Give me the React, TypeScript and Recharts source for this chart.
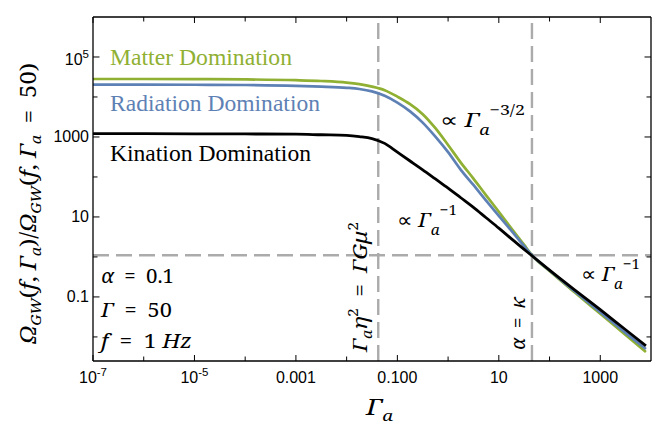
import React, { useEffect, useState } from 'react';
import { Line, LineChart, ReferenceLine, XAxis, YAxis } from 'recharts';

// values (log-log plot)
const gammaA = [1e-7, 1e-6, 1e-5, 1e-4, 1e-3, 0.00316, 0.01, 0.0178, 0.0316, 0.0562, 0.1, 0.178, 0.316, 0.562, 1, 1.78, 3.16, 5.62, 10, 17.8, 31.6, 45, 100, 316, 1000, 3160, 7940];
const matterDom = [28200, 28200, 27900, 27500, 26300, 25100, 22900, 20900, 18200, 14800, 10200, 6610, 3720, 1660, 631, 229, 91.2, 34.7, 13.5, 5.13, 2.0, 1.1, 0.447, 0.129, 0.038, 0.0112, 0.0042];
const radiationDom = [20400, 20400, 20200, 19950, 19050, 18200, 16980, 15850, 13800, 10720, 7240, 4370, 2290, 1020, 417, 151, 63.1, 25.7, 10.7, 4.47, 1.86, 1.1, 0.457, 0.138, 0.0417, 0.0126, 0.005];
const kinationDom = [1216, 1216, 1202, 1189, 1175, 1135, 1096, 1023, 912, 692, 417, 251, 151, 89.1, 52.5, 30.2, 17.4, 9.55, 5.25, 2.82, 1.55, 1.07, 0.468, 0.148, 0.0479, 0.0151, 0.006];

const kneeX = 0.042;
const kappaX = 45;
const crossY = 1.1;

const xTicks = [1e-7, 1e-6, 1e-5, 1e-4, 1e-3, 1e-2, 0.1, 1, 10, 100, 1000];
const xLabelValues = [1e-7, 1e-5, 1e-3, 0.1, 10, 1000];
const xLabelText = ['10^-7', '10^-5', '0.001', '0.100', '10', '1000'];
const yTicks = [0.01, 0.1, 1, 10, 100, 1000, 1e4, 1e5];
const yLabelValues = [0.1, 10, 1000, 1e5];
const yLabelText = ['0.1', '10', '1000', '10^5'];

const data = gammaA.map((g, i) => ({
  g,
  matter: matterDom[i],
  radiation: radiationDom[i],
  kination: kinationDom[i],
}));

const GREEN = '#8FB032';
const BLUE = '#5E81B5';
const INK = '#000';
const DASH = '#ABABAB';
const SANS = "'Liberation Sans'";
const SERIF = "'Liberation Serif'";
const MATH = "'Noto Serif'";
const EQ = '\u2002=\u2002';

const W = 665;
const H = 434;

function findLabel(values: number[], texts: string[], v: number) {
  const i = values.findIndex((t) => Math.abs(Math.log10(t) - Math.log10(v)) < 1e-6);
  return i < 0 ? null : texts[i];
}

function PowerText({ x, y, text, anchor }: { x: number; y: number; text: string; anchor: string }) {
  const [base, exp] = text.split('^');
  return (
    <text x={x} y={y} textAnchor={anchor} style={{ fontFamily: SANS }} fontSize={16} fill={INK}>
      {base}
      {exp !== undefined && (
        <tspan dy={-7} fontSize={11.5}>
          {exp}
        </tspan>
      )}
    </text>
  );
}

function BottomTick(props: any) {
  const { x, y, payload } = props;
  const label = findLabel(xLabelValues, xLabelText, payload.value);
  return (
    <g>
      <line x1={x} x2={x} y1={y} y2={y - (label ? 6 : 4.5)} stroke={INK} strokeWidth={1} />
      {label && <PowerText x={x} y={y + 22} text={label} anchor="middle" />}
    </g>
  );
}

function TopTick(props: any) {
  const { x, y, payload } = props;
  const label = findLabel(xLabelValues, xLabelText, payload.value);
  return <line x1={x} x2={x} y1={y} y2={y + (label ? 6 : 4.5)} stroke={INK} strokeWidth={1} />;
}

function LeftTick(props: any) {
  const { x, y, payload } = props;
  const label = findLabel(yLabelValues, yLabelText, payload.value);
  return (
    <g>
      <line x1={x} x2={x + (label ? 6.5 : 4.5)} y1={y} y2={y} stroke={INK} strokeWidth={1} />
      {label && <PowerText x={x - 4} y={y + (label.includes('^') ? 8 : 5.5)} text={label} anchor="end" />}
    </g>
  );
}

function RightTick(props: any) {
  const { x, y, payload } = props;
  const label = findLabel(yLabelValues, yLabelText, payload.value);
  return <line x1={x} x2={x - (label ? 6.5 : 4.5)} y1={y} y2={y} stroke={INK} strokeWidth={1} />;
}

// textLength pins each label to the width it has in the reference
function MathText({ children, len, ...rest }: any) {
  return (
    <text style={{ fontFamily: MATH }} fill={INK} textLength={len} lengthAdjust="spacingAndGlyphs" {...rest}>
      {children}
    </text>
  );
}

function PropTo({ x, y, exp, len }: { x: number; y: number; exp: string; len: number }) {
  return (
    <MathText x={x} y={y} fontSize={20} len={len}>
      <tspan>∝ </tspan>
      <tspan fontStyle="italic">Γ</tspan>
      <tspan fontStyle="italic" fontSize={14} dy={8}>a</tspan>
      <tspan fontSize={14} dy={-20}>{exp}</tspan>
    </MathText>
  );
}

function SeriesLabel({ y, color, len, children }: any) {
  return (
    <text x={110} y={y} style={{ fontFamily: SERIF }} fontSize={23.5} fill={color} textLength={len} lengthAdjust="spacingAndGlyphs">
      {children}
    </text>
  );
}

function Annotations() {
  return (
    <svg width={W} height={H} style={{ position: 'absolute', left: 0, top: 0, pointerEvents: 'none' }}>
      {/* y axis title */}
      <MathText transform="translate(36,344) rotate(-90)" fontSize={21} len={281}>
        <tspan fontStyle="italic">Ω</tspan>
        <tspan fontStyle="italic" fontSize={14} dy={5}>GW</tspan>
        <tspan dy={-5}>(</tspan>
        <tspan fontStyle="italic">f</tspan>
        <tspan>, </tspan>
        <tspan fontStyle="italic">Γ</tspan>
        <tspan fontStyle="italic" fontSize={14} dy={5}>a</tspan>
        <tspan dy={-5}>)/</tspan>
        <tspan fontStyle="italic">Ω</tspan>
        <tspan fontStyle="italic" fontSize={14} dy={5}>GW</tspan>
        <tspan dy={-5}>(</tspan>
        <tspan fontStyle="italic">f</tspan>
        <tspan>, </tspan>
        <tspan fontStyle="italic">Γ</tspan>
        <tspan fontStyle="italic" fontSize={14} dy={5}>a</tspan>
        <tspan dy={-5}>{EQ}50)</tspan>
      </MathText>

      {/* x axis title */}
      <MathText x={366} y={415} fontSize={21} len={27}>
        <tspan fontStyle="italic">Γ</tspan>
        <tspan fontStyle="italic" fontSize={14} dy={6}>a</tspan>
      </MathText>

      {/* series labels */}
      <SeriesLabel y={65} color={GREEN} len={182}>Matter Domination</SeriesLabel>
      <SeriesLabel y={111} color={BLUE} len={210}>Radiation Domination</SeriesLabel>
      <SeriesLabel y={160.5} color={INK} len={201}>Kination Domination</SeriesLabel>

      <PropTo x={440} y={126.5} exp="−3/2" len={85} />
      <PropTo x={397} y={226.5} exp="−1" len={60} />
      <PropTo x={581} y={281} exp="−1" len={59} />

      {/* parameters */}
      <MathText x={101} y={283} fontSize={20} len={73}>
        <tspan fontStyle="italic">α</tspan>
        <tspan>{EQ}0.1</tspan>
      </MathText>
      <MathText x={101} y={317} fontSize={20} len={71}>
        <tspan fontStyle="italic">Γ</tspan>
        <tspan>{EQ}50</tspan>
      </MathText>
      <MathText x={101} y={348} fontSize={20} len={91}>
        <tspan fontStyle="italic">f</tspan>
        <tspan>{EQ}1 </tspan>
        <tspan fontStyle="italic">Hz</tspan>
      </MathText>

      {/* vertical labels next to the dashed lines */}
      <MathText transform="translate(367,352) rotate(-90)" fontSize={20} len={130}>
        <tspan fontStyle="italic">Γ</tspan>
        <tspan fontStyle="italic" fontSize={14} dy={5}>a</tspan>
        <tspan fontStyle="italic" dy={-5}>η</tspan>
        <tspan fontSize={14} dy={-9}>2</tspan>
        <tspan dy={9}>{EQ}</tspan>
        <tspan fontStyle="italic">ΓGμ</tspan>
        <tspan fontSize={14} dy={-9}>2</tspan>
      </MathText>
      <MathText transform="translate(525,350) rotate(-90)" fontSize={20} len={53}>
        <tspan fontStyle="italic">α</tspan>
        <tspan>{EQ}</tspan>
        <tspan fontStyle="italic">κ</tspan>
      </MathText>
    </svg>
  );
}

export default function App() {
  // re-render once the named fonts are available
  const [, setFontsReady] = useState(false);
  useEffect(() => {
    const fonts = (document as any).fonts;
    if (!fonts) return;
    Promise.all([fonts.load(`20px ${SERIF}`), fonts.load(`italic 20px ${MATH}`), fonts.load(`16px ${SANS}`)])
      .then(() => setFontsReady(true))
      .catch(() => setFontsReady(true));
  }, []);

  return (
    <div style={{ position: 'absolute', left: 0, top: 0, width: W, height: H, background: '#fff' }}>
      <LineChart width={W} height={H} data={data} margin={{ top: 0, right: 0, bottom: 0, left: 0 }}>
        <XAxis
          dataKey="g"
          type="number"
          scale="log"
          domain={[1e-7, 1e4]}
          allowDataOverflow
          ticks={xTicks}
          interval={0}
          height={73}
          tickSize={0}
          tickMargin={0}
          tick={BottomTick}
          axisLine={{ stroke: INK, strokeWidth: 1.3 }}
        />
        <XAxis
          xAxisId="top"
          orientation="top"
          dataKey="g"
          type="number"
          scale="log"
          domain={[1e-7, 1e4]}
          allowDataOverflow
          ticks={xTicks}
          interval={0}
          height={17}
          tickSize={0}
          tickMargin={0}
          tick={TopTick}
          axisLine={{ stroke: INK, strokeWidth: 1.3 }}
        />
        <YAxis
          type="number"
          scale="log"
          domain={[0.0025, 1e6]}
          allowDataOverflow
          ticks={yTicks}
          interval={0}
          width={93}
          tickSize={0}
          tickMargin={0}
          tick={LeftTick}
          axisLine={{ stroke: INK, strokeWidth: 1.3 }}
        />
        <YAxis
          yAxisId="right"
          orientation="right"
          type="number"
          scale="log"
          domain={[0.0025, 1e6]}
          allowDataOverflow
          ticks={yTicks}
          interval={0}
          width={14}
          tickSize={0}
          tickMargin={0}
          tick={RightTick}
          axisLine={{ stroke: INK, strokeWidth: 1.3 }}
        />
        <ReferenceLine x={kneeX} stroke={DASH} strokeWidth={2.4} strokeDasharray="16 7" />
        <ReferenceLine x={kappaX} stroke={DASH} strokeWidth={2.4} strokeDasharray="16 7" />
        <ReferenceLine y={crossY} stroke={DASH} strokeWidth={2.4} strokeDasharray="16 7" />
        <Line dataKey="matter" type="monotone" stroke={GREEN} strokeWidth={2.7} dot={false} isAnimationActive={false} />
        <Line dataKey="radiation" type="monotone" stroke={BLUE} strokeWidth={2.7} dot={false} isAnimationActive={false} />
        <Line dataKey="kination" type="monotone" stroke={INK} strokeWidth={2.8} dot={false} isAnimationActive={false} />
      </LineChart>
      <Annotations />
    </div>
  );
}
